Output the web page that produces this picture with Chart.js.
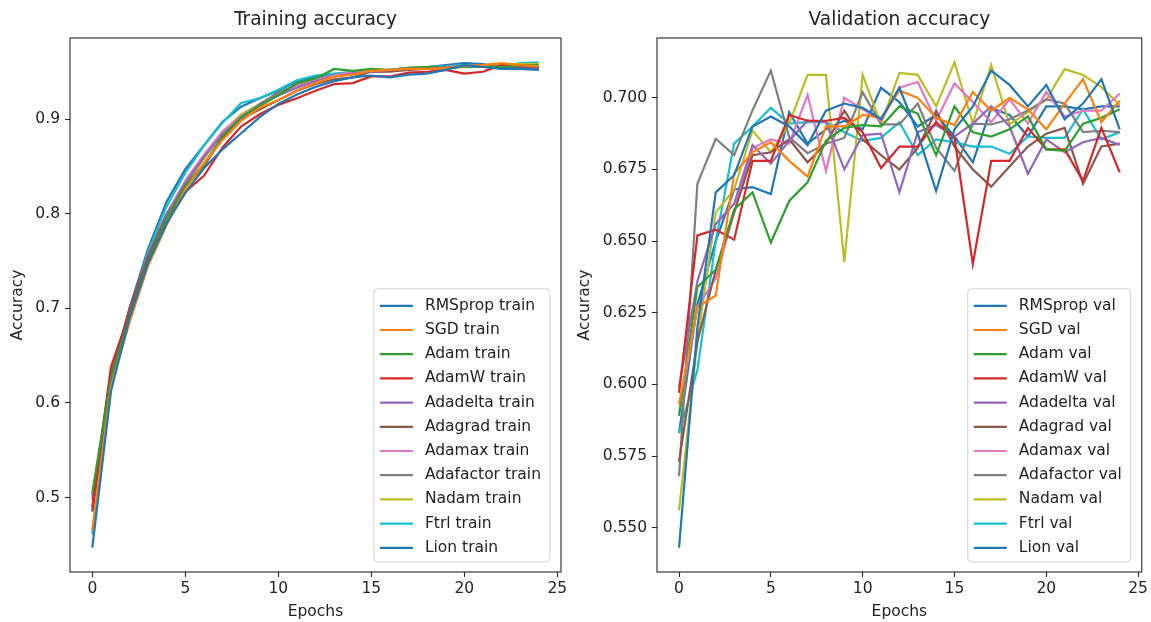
<!DOCTYPE html>
<html>
<head>
<meta charset="utf-8">
<script src="https://cdn.jsdelivr.net/npm/chart.js@4.4.1/dist/chart.umd.min.js"></script>
<style>
html,body{margin:0;padding:0;background:#fff;}
#wrap{position:relative;width:1151px;height:622px;overflow:hidden;}
canvas{position:absolute;top:0;}
</style>
</head>
<body>
<div id="wrap">
<canvas id="c1" width="575" height="622" style="left:0px"></canvas>
<canvas id="c2" width="576" height="622" style="left:575px"></canvas>
</div>
<script>
// ---------------- data ----------------
const epochs = [0,1,2,3,4,5,6,7,8,9,10,11,12,13,14,15,16,17,18,19,20,21,22,23,24];
const optimizers = ["RMSprop","SGD","Adam","AdamW","Adadelta","Adagrad","Adamax","Adafactor","Nadam","Ftrl","Lion"];
const colors = ["#1f77b4","#ff7f0e","#2ca02c","#d62728","#9467bd","#8c564b","#e377c2","#7f7f7f","#bcbd22","#17becf","#1f77b4"];
const xTicks = [0,5,10,15,20,25];
const trainYTicks = [0.5,0.6,0.7,0.8,0.9];
const valYTicks = [0.550,0.575,0.600,0.625,0.650,0.675,0.700];

const trainRMSprop  = [0.447,0.612,0.690,0.748,0.790,0.822,0.848,0.868,0.885,0.902,0.916,0.926,0.934,0.940,0.944,0.946,0.944,0.947,0.948,0.952,0.957,0.955,0.953,0.953,0.952];
const trainSGD      = [0.465,0.617,0.685,0.745,0.788,0.826,0.853,0.878,0.898,0.912,0.920,0.930,0.938,0.945,0.947,0.951,0.952,0.953,0.953,0.954,0.956,0.957,0.959,0.957,0.956];
const trainAdam     = [0.505,0.625,0.692,0.750,0.795,0.830,0.852,0.882,0.902,0.914,0.925,0.938,0.943,0.953,0.951,0.953,0.952,0.954,0.955,0.954,0.955,0.956,0.955,0.957,0.957];
const trainAdamW    = [0.490,0.638,0.695,0.752,0.795,0.823,0.840,0.870,0.892,0.905,0.915,0.922,0.930,0.937,0.938,0.945,0.945,0.949,0.950,0.952,0.948,0.950,0.957,0.957,0.956];
const trainAdadelta = [0.500,0.623,0.695,0.752,0.798,0.832,0.860,0.884,0.900,0.915,0.925,0.933,0.940,0.945,0.948,0.950,0.952,0.953,0.954,0.955,0.955,0.955,0.954,0.953,0.953];
const trainAdagrad  = [0.486,0.628,0.700,0.755,0.800,0.828,0.850,0.880,0.900,0.910,0.920,0.930,0.937,0.942,0.944,0.950,0.950,0.952,0.953,0.954,0.955,0.956,0.955,0.955,0.955];
const trainAdamax   = [0.497,0.625,0.698,0.755,0.800,0.835,0.862,0.887,0.903,0.915,0.925,0.935,0.941,0.946,0.950,0.951,0.952,0.954,0.955,0.955,0.956,0.956,0.957,0.956,0.956];
const trainAdafactor= [0.502,0.630,0.698,0.756,0.800,0.833,0.860,0.885,0.902,0.916,0.928,0.936,0.942,0.946,0.949,0.950,0.951,0.953,0.954,0.955,0.956,0.957,0.956,0.956,0.956];
const trainNadam    = [0.465,0.618,0.688,0.748,0.793,0.830,0.858,0.886,0.905,0.916,0.926,0.934,0.940,0.946,0.949,0.951,0.952,0.953,0.954,0.955,0.955,0.957,0.958,0.958,0.958];
const trainFtrl     = [0.461,0.615,0.695,0.760,0.808,0.843,0.872,0.896,0.917,0.922,0.931,0.941,0.946,0.948,0.950,0.951,0.952,0.954,0.955,0.956,0.957,0.956,0.955,0.959,0.960];
const trainLion     = [0.485,0.620,0.700,0.763,0.813,0.847,0.872,0.897,0.913,0.922,0.930,0.940,0.945,0.947,0.948,0.952,0.951,0.953,0.955,0.957,0.959,0.958,0.955,0.955,0.953];

const valRMSprop  = [0.543,0.620,0.667,0.673,0.690,0.6935,0.690,0.6835,0.6955,0.698,0.6965,0.6925,0.7035,0.6875,0.6675,0.689,0.697,0.7095,0.7045,0.697,0.7045,0.6925,0.698,0.7065,0.689];
const valSGD      = [0.593,0.627,0.631,0.6735,0.681,0.6845,0.678,0.6725,0.690,0.690,0.694,0.693,0.7025,0.700,0.693,0.6905,0.702,0.6955,0.700,0.696,0.689,0.698,0.7065,0.6915,0.699];
const valAdam     = [0.589,0.634,0.640,0.661,0.667,0.6495,0.664,0.6705,0.685,0.6895,0.6905,0.690,0.697,0.6945,0.680,0.697,0.688,0.6865,0.689,0.6935,0.682,0.6815,0.691,0.693,0.696];
const valAdamW    = [0.597,0.652,0.654,0.6505,0.678,0.678,0.694,0.692,0.692,0.693,0.688,0.6755,0.683,0.683,0.6915,0.686,0.642,0.678,0.678,0.6895,0.682,0.682,0.671,0.6895,0.674];
const valAdadelta = [0.599,0.636,0.656,0.663,0.6835,0.677,0.685,0.692,0.6915,0.675,0.687,0.6875,0.667,0.688,0.6905,0.6865,0.691,0.697,0.690,0.6735,0.6855,0.681,0.6845,0.686,0.6835];
const valAdagrad  = [0.573,0.615,0.640,0.660,0.680,0.681,0.6855,0.6775,0.684,0.6955,0.6855,0.680,0.675,0.6825,0.6955,0.683,0.675,0.669,0.676,0.683,0.6875,0.6895,0.670,0.683,0.684];
const valAdamax   = [0.590,0.627,0.637,0.660,0.6825,0.6855,0.684,0.701,0.6745,0.700,0.696,0.692,0.7035,0.7055,0.692,0.705,0.6985,0.6915,0.6995,0.691,0.702,0.6935,0.6955,0.6955,0.7015];
const valAdafactor= [0.568,0.670,0.6857,0.680,0.6956,0.7095,0.6863,0.6807,0.684,0.686,0.7019,0.6907,0.6907,0.698,0.6826,0.6745,0.691,0.6907,0.6925,0.6956,0.6994,0.698,0.688,0.6885,0.688];
const valNadam    = [0.556,0.615,0.660,0.668,0.6886,0.681,0.691,0.708,0.708,0.6427,0.708,0.6907,0.7087,0.708,0.697,0.7124,0.691,0.7115,0.6907,0.695,0.6994,0.710,0.708,0.7037,0.6975];
const valFtrl     = [0.583,0.605,0.650,0.684,0.690,0.6965,0.691,0.6915,0.6915,0.688,0.685,0.686,0.6915,0.680,0.6855,0.6845,0.683,0.683,0.6805,0.6865,0.686,0.686,0.696,0.6855,0.688];
const valLion     = [0.583,0.628,0.650,0.668,0.6688,0.6664,0.695,0.684,0.689,0.692,0.689,0.7035,0.6985,0.690,0.694,0.6865,0.6775,0.6965,0.694,0.6865,0.697,0.697,0.696,0.697,0.697];

const trainSeries = [trainRMSprop,trainSGD,trainAdam,trainAdamW,trainAdadelta,trainAdagrad,trainAdamax,trainAdafactor,trainNadam,trainFtrl,trainLion];
const valSeries   = [valRMSprop,valSGD,valAdam,valAdamW,valAdadelta,valAdagrad,valAdamax,valAdafactor,valNadam,valFtrl,valLion];

// ---------------- drawing ----------------
const FONT = '"DejaVu Sans", "Liberation Sans", sans-serif';
const TXT = '#222222';

const framePlugin = {
  id: 'mplFrame',
  afterDatasetsDraw(chart) {
    const {ctx, chartArea: a} = chart;
    ctx.save();
    ctx.strokeStyle = '#262626';
    ctx.lineWidth = 1.1;
    ctx.strokeRect(a.left, a.top, a.right - a.left, a.bottom - a.top);
    ctx.restore();
  }
};

const axesTitlePlugin = {
  id: 'axesTitle',
  afterDraw(chart, args, opts) {
    const {ctx, chartArea: a} = chart;
    ctx.save();
    ctx.font = '18.6px ' + FONT;
    ctx.fillStyle = TXT;
    ctx.textAlign = 'center';
    ctx.textBaseline = 'middle';
    ctx.fillText(chart.options.axesTitle, (a.left + a.right) / 2, a.top - 18);
    ctx.restore();
  }
};

const legendPlugin = {
  id: 'mplLegend',
  afterDraw(chart) {
    const {ctx, chartArea: a} = chart;
    const ds = chart.data.datasets;
    ctx.save();
    ctx.font = '15.5px ' + FONT;
    const maxW = Math.max(...ds.map(d => ctx.measureText(d.label).width));
    const rowH = 24.2;
    const boxW = 51 + maxW + 9;
    const boxH = rowH * ds.length + 7;
    const right = a.right - 11, bottom = a.bottom - 10;
    const left = right - boxW, top = bottom - boxH;
    ctx.beginPath();
    ctx.roundRect(left, top, boxW, boxH, 4);
    ctx.fillStyle = 'rgba(255,255,255,0.85)';
    ctx.fill();
    ctx.strokeStyle = '#d0d0d0';
    ctx.lineWidth = 1;
    ctx.stroke();
    ds.forEach((d, i) => {
      const y = top + 17 + i * rowH;
      ctx.strokeStyle = d.borderColor;
      ctx.lineWidth = 2.2;
      ctx.beginPath();
      ctx.moveTo(left + 6, y);
      ctx.lineTo(left + 39, y);
      ctx.stroke();
      ctx.fillStyle = TXT;
      ctx.textBaseline = 'middle';
      ctx.textAlign = 'left';
      ctx.fillText(d.label, left + 51, y);
    });
    ctx.restore();
  }
};

function limits(series) {
  let lo = Infinity, hi = -Infinity;
  series.forEach(s => s.forEach(v => { lo = Math.min(lo, v); hi = Math.max(hi, v); }));
  const m = (hi - lo) * 0.05;
  return [lo - m, hi + m];
}

function makeChart(id, title, suffix, series, yTicks, decimals, yAxisWidth, yTitlePad, padRight) {
  const [ymin, ymax] = limits(series);
  const xm = (epochs[epochs.length - 1] - epochs[0]) * 0.05;
  const datasets = series.map((s, i) => ({
    label: optimizers[i] + ' ' + suffix,
    data: s.map((v, j) => ({x: epochs[j], y: v})),
    borderColor: colors[i],
    backgroundColor: colors[i],
    borderWidth: 2.2,
    pointRadius: 0,
    tension: 0,
    fill: false
  }));
  return new Chart(document.getElementById(id), {
    type: 'line',
    data: {datasets},
    plugins: [framePlugin, legendPlugin, axesTitlePlugin],
    options: {
      axesTitle: title,
      responsive: false,
      animation: false,
      layout: {padding: {left: 0, right: padRight, top: 38, bottom: 0}},
      plugins: {
        legend: {display: false},
        tooltip: {enabled: false},
        title: {display: false}
      },
      scales: {
        x: {
          type: 'linear',
          min: epochs[0] - xm, max: epochs[epochs.length - 1] + xm,
          afterBuildTicks: sc => { sc.ticks = xTicks.map(v => ({value: v})); },
          afterFit: sc => { sc.height = 50; },
          grid: {display: true, drawOnChartArea: false, drawTicks: true, tickLength: 5, color: '#262626', tickWidth: 1.1},
          border: {display: false},
          ticks: {color: TXT, font: {family: FONT, size: 15.5}, padding: 3, maxRotation: 0, autoSkip: false,
                  callback: v => String(v)},
          title: {display: true, text: 'Epochs', color: TXT, font: {family: FONT, size: 15.5}, padding: {top: 0, bottom: 0.7}}
        },
        y: {
          type: 'linear',
          min: ymin, max: ymax,
          afterBuildTicks: sc => { sc.ticks = yTicks.map(v => ({value: v})); },
          afterFit: sc => { sc.width = yAxisWidth; },
          grid: {display: true, drawOnChartArea: false, drawTicks: true, tickLength: 5, color: '#262626', tickWidth: 1.1},
          border: {display: false},
          ticks: {color: TXT, font: {family: FONT, size: 15.5}, padding: 5, autoSkip: false,
                  callback: v => Number(v).toFixed(decimals)},
          title: {display: true, text: 'Accuracy', color: TXT, font: {family: FONT, size: 15.5}, padding: {top: yTitlePad, bottom: 0}}
        }
      }
    }
  });
}

makeChart('c1', 'Training accuracy', 'train', trainSeries, trainYTicks, 1, 70, 8.7, 14);
makeChart('c2', 'Validation accuracy', 'val', valSeries, valYTicks, 3, 82, 0.7, 5);
</script>
</body>
</html>
